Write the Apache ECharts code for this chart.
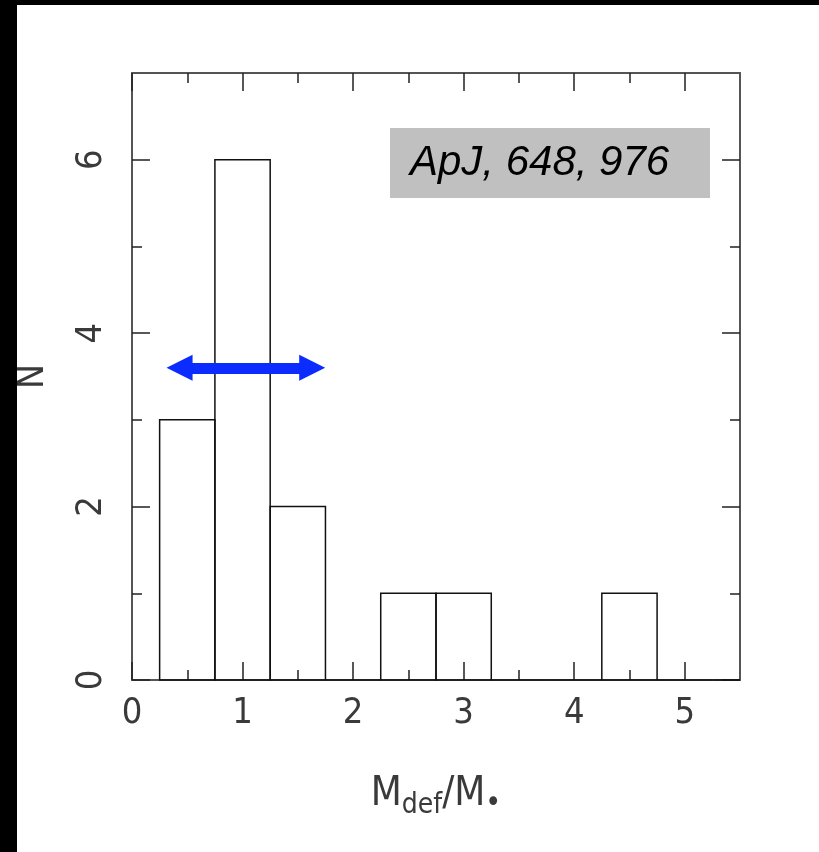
<!DOCTYPE html>
<html>
<head>
<meta charset="utf-8">
<script src="https://cdn.jsdelivr.net/npm/echarts@6/dist/echarts.min.js"></script>
<style>
    html, body { margin: 0; padding: 0; background: #000; }
    #chart { position: absolute; left: 17px; top: 5px; width: 802px; height: 847px; background: #fff; }
</style>
</head>
<body>
<div id="chart"></div>
<script>
// histogram bins (left edge, right edge) and counts
const binStart = [0.25, 0.75, 1.25, 1.75, 2.25, 2.75, 3.25, 3.75, 4.25, 4.75, 5.25];
const binEnd = [0.75, 1.25, 1.75, 2.25, 2.75, 3.25, 3.75, 4.25, 4.75, 5.25, 5.5];
const counts = [3, 6, 2, 0, 1, 1, 0, 0, 1, 0, 0];
const xMajor = [0, 1, 2, 3, 4, 5];
const xMinor = [0.5, 1.5, 2.5, 3.5, 4.5];
const yMajor = [0, 2, 4, 6];
const yMinor = [1, 3, 5];
// blue double arrow (x range, y level)
const arrowX = [0.43, 1.63];
const arrowY = 3.6;

(function () {
    let myChart = echarts.init(document.getElementById("chart"));
    const font = "'Liberation Sans Narrow', 'DejaVu Sans Condensed', 'Liberation Sans', sans-serif";
    const lineCol = "#555";
    const tickCol = "#222";
    const txtCol = "#3a3a3a";

    function xAx(pos, ticks, len, labels, line) {
        return {
            type: "value", position: pos, min: 0, max: 5.5,
            axisLine: { show: line, onZero: false, lineStyle: { color: lineCol, width: 2 } },
            axisTick: { show: true, inside: true, length: len, customValues: ticks, lineStyle: { color: tickCol, width: 1.5 } },
            axisLabel: { show: labels, customValues: ticks, margin: 16, color: txtCol, fontSize: 36, fontFamily: font },
            splitLine: { show: false }
        };
    }
    function yAx(pos, ticks, len, labels, line) {
        return {
            type: "value", position: pos, min: 0, max: 7,
            axisLine: { show: line, onZero: false, lineStyle: { color: lineCol, width: 2 } },
            axisTick: { show: true, inside: true, length: len, customValues: ticks, lineStyle: { color: tickCol, width: 1.5 } },
            axisLabel: { show: labels, customValues: ticks, rotate: 90, margin: 22, color: txtCol, fontSize: 36, fontFamily: font },
            splitLine: { show: false }
        };
    }

    let xBottom = xAx("bottom", xMajor, 18, true, true);
    xBottom.name = "{m|M}{s|def}{m|/M}{d|•}";
    xBottom.nameLocation = "middle";
    xBottom.nameGap = 90;
    xBottom.nameTextStyle = {
        rich: {
            m: { fontSize: 40, fontFamily: font, color: txtCol },
            s: { fontSize: 28, fontFamily: font, color: txtCol, padding: [22, 0, 0, 0] },
            d: { fontSize: 30, fontFamily: font, color: txtCol, padding: [18, 0, 0, 0] }
        }
    };
    let yLeft = yAx("left", yMajor, 18, true, true);
    yLeft.name = "N";
    yLeft.nameLocation = "middle";
    yLeft.nameGap = 80;
    yLeft.nameTextStyle = { fontSize: 37, fontFamily: font, color: txtCol };

    let data = binStart.map((s, i) => [s, binEnd[i], counts[i]]);

    let option = {
        animation: false,
        grid: { left: 115, right: 79, top: 68, bottom: 172, containLabel: false, outerBoundsMode: "none" },
        xAxis: [
            xBottom,
            xAx("bottom", xMinor, 10, false, false),
            xAx("top", xMajor, 18, false, true),
            xAx("top", xMinor, 10, false, false)
        ],
        yAxis: [
            yLeft,
            yAx("left", yMinor, 10, false, false),
            yAx("right", yMajor, 18, false, true),
            yAx("right", yMinor, 10, false, false)
        ],
        graphic: [
            {
                type: "rect", left: 373, top: 123, z: 10,
                shape: { width: 320, height: 70 },
                style: { fill: "#c0c0c0" }
            },
            {
                type: "text", left: 393, top: 137, z: 11,
                style: { text: "ApJ, 648, 976", fill: "#000", fontSize: 42, fontStyle: "italic", fontFamily: "'Liberation Sans', Arial, sans-serif" }
            }
        ],
        series: [
            {
                type: "custom",
                xAxisIndex: 0,
                yAxisIndex: 0,
                data: data,
                renderItem: function (params, api) {
                    let p0 = api.coord([api.value(0), 0]);
                    let p1 = api.coord([api.value(1), api.value(2)]);
                    return {
                        type: "rect",
                        shape: { x: p0[0], y: p1[1], width: p1[0] - p0[0], height: p0[1] - p1[1] },
                        style: { fill: "none", stroke: "#111", lineWidth: 1.5 }
                    };
                },
                markLine: {
                    silent: true,
                    symbol: ["triangle", "triangle"],
                    symbolSize: [26, 26],
                    label: { show: false },
                    lineStyle: { color: "#0b2bff", width: 11, type: "solid" },
                    data: [[{ coord: [arrowX[0], arrowY] }, { coord: [arrowX[1], arrowY] }]]
                }
            }
        ]
    };
    myChart.setOption(option);
    window.addEventListener("resize", function () {
        myChart.resize();
    });
})();
</script>
</body>
</html>
